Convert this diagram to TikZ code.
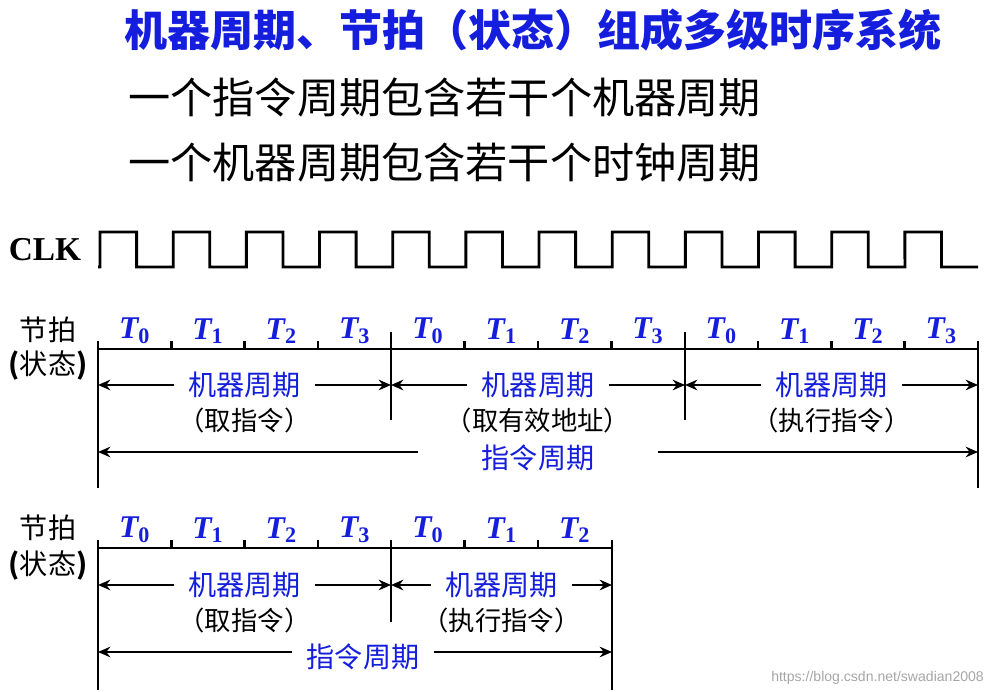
\documentclass[tikz,border=0pt]{standalone}
\usepackage{fontspec}
\setmainfont{Liberation Serif}
\setsansfont{Liberation Sans}
\newfontfamily\cjk{Noto Sans CJK SC}
\usetikzlibrary{positioning,arrows.meta}
\definecolor{tblue}{RGB}{20,30,220}
\tikzset{
  title/.style={font=\cjk\bfseries\fontsize{24.5}{25}\selectfont, text=tblue, inner sep=0pt},
  line/.style={font=\cjk\fontsize{24}{24}\selectfont, inner sep=0pt, anchor=west},
  tlab/.style={font=\bfseries\itshape\fontsize{18}{18}\selectfont, text=tblue, inner sep=0pt},
  side/.style={font=\cjk\fontsize{16}{16}\selectfont, inner sep=0pt},
  cyc/.style={font=\cjk\fontsize{16}{16}\selectfont, text=tblue, fill=white, inner xsep=8pt, inner ysep=2pt},
  sub/.style={font=\cjk\fontsize{15}{15}\selectfont, inner sep=0pt},
  bar/.style={line width=1.6pt},
  arrow/.style={line width=1.4pt,-{Stealth[length=7pt,width=6pt]}},
}
\newcommand\tstate[1]{T\textsubscript{\upshape #1}}
\begin{document}
\begin{tikzpicture}[x=0.02cm,y=-0.02cm]
  \useasboundingbox (0,0) rectangle (997,692);
  % heading
  \node (head) [title] at (533,30) {机器周期、节拍（状态）组成多级时序系统};
  \node (l1) [line] at (128,98) {一个指令周期包含若干个机器周期};
  \node (l2) [line] at (128,163) {一个机器周期包含若干个时钟周期};

  % clock
  \node (clk) [font=\bfseries\fontsize{19}{19}\selectfont] at (45,250) {CLK};
  \draw [bar] (98,267) -- (100,267)
    \foreach \i in {0,...,11} {
      -- ({100+73.17*\i},232) -- ({136.6+73.17*\i},232)
      -- ({136.6+73.17*\i},267) -- ({173.2+73.17*\i},267)
    } -- (978,267);

  % first sequence
  \node (s1) [side] at (48,330) {节拍};
  \node (s1b) [side] at (48,366) {\textbf{(}状态\textbf{)}};
  \draw [bar] (98,349) -- (978,349);
  \foreach \i in {1,2,3,5,6,7,9,10,11}
    \draw [bar] ({98+73.33*\i},341) -- ({98+73.33*\i},349);
  \foreach \i [count=\k from 0] in {0,1,2,3,0,1,2,3,0,1,2,3}
    \node [tlab] at ({134.7+73.33*\k},331) {\tstate{\i}};
  \draw [bar] (98,341) -- (98,488);
  \draw [bar] (978,341) -- (978,488);
  \draw [bar] (391,332) -- (391,420);
  \draw [bar] (685,332) -- (685,420);
  \coordinate (a0) at (98,385);
  \coordinate (a1) at (391,385);
  \coordinate (a2) at (685,385);
  \coordinate (a3) at (978,385);
  \node (m1) [cyc] at (244.5,385) {机器周期};
  \node (m2) [cyc] at (538,385) {机器周期};
  \node (m3) [cyc] at (831.5,385) {机器周期};
  \node (f1) [sub] at (244.5,420) {（取指令）};
  \node (f2) [sub] at (538,420) {（取有效地址）};
  \node (f3) [sub] at (831.5,420) {（执行指令）};
  \draw [arrow] (m1) -- (a0);
  \draw [arrow] (m1) -- (a1);
  \draw [arrow] (m2) -- (a1);
  \draw [arrow] (m2) -- (a2);
  \draw [arrow] (m3) -- (a2);
  \draw [arrow] (m3) -- (a3);
  \coordinate (b0) at (98,452);
  \coordinate (b1) at (978,452);
  \node (i1) [cyc, inner xsep=36pt] at (538,458) {指令周期};
  \draw [arrow] (i1.west |- b0) -- (b0);
  \draw [arrow] (i1.east |- b1) -- (b1);

  % second sequence
  \node (s2) [side] at (48,528) {节拍};
  \node (s2b) [side] at (48,566) {\textbf{(}状态\textbf{)}};
  \draw [bar] (98,548) -- (612,548);
  \foreach \i in {1,2,3,5,6}
    \draw [bar] ({98+73.33*\i},540) -- ({98+73.33*\i},548);
  \foreach \i [count=\k from 0] in {0,1,2,3,0,1,2}
    \node [tlab] at ({134.7+73.33*\k},530) {\tstate{\i}};
  \draw [bar] (98,540) -- (98,690);
  \draw [bar] (612,540) -- (612,690);
  \draw [bar] (391,540) -- (391,622);
  \coordinate (c0) at (98,585);
  \coordinate (c1) at (391,585);
  \coordinate (c2) at (612,585);
  \node (n1) [cyc] at (244.5,585) {机器周期};
  \node (n2) [cyc] at (501.5,585) {机器周期};
  \node (g1) [sub] at (244.5,620) {（取指令）};
  \node (g2) [sub] at (501.5,620) {（执行指令）};
  \draw [arrow] (n1) -- (c0);
  \draw [arrow] (n1) -- (c1);
  \draw [arrow] (n2) -- (c1);
  \draw [arrow] (n2) -- (c2);
  \coordinate (d0) at (98,652);
  \coordinate (d1) at (612,652);
  \node (i2) [cyc] at (363,657) {指令周期};
  \draw [arrow] (i2.west |- d0) -- (d0);
  \draw [arrow] (i2.east |- d1) -- (d1);

  \node (wm) [font=\sffamily\fontsize{8}{8}\selectfont, text=gray!70, anchor=east] at (990,678) {https://blog.csdn.net/swadian2008};
\end{tikzpicture}
\end{document}
